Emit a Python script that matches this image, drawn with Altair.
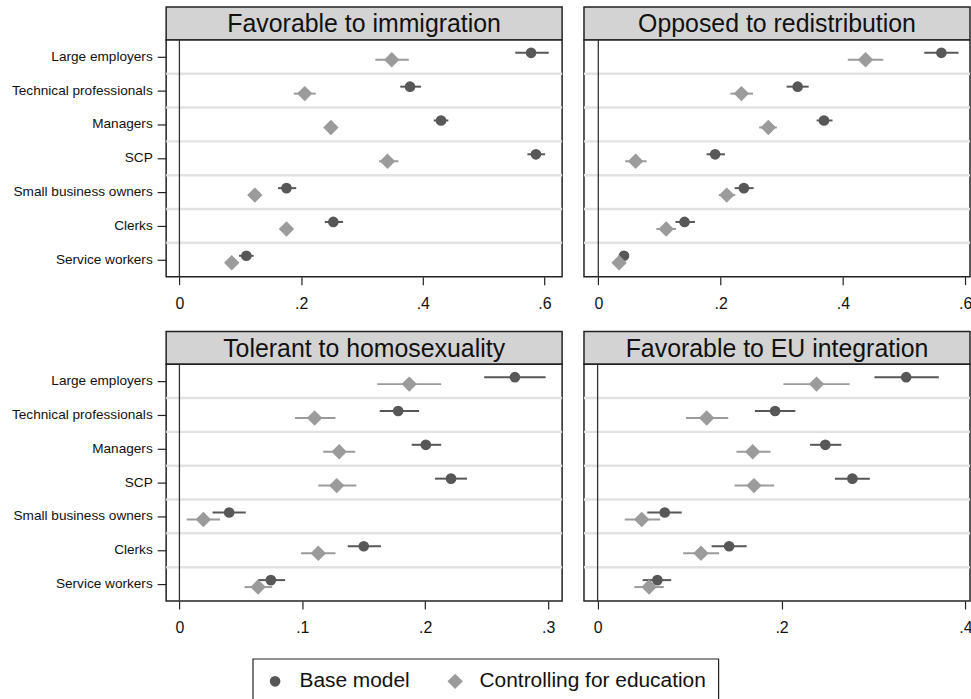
import altair as alt
import pandas as pd

# Occupational classes, top to bottom
categories = [
    "Large employers",
    "Technical professionals",
    "Managers",
    "SCP",
    "Small business owners",
    "Clerks",
    "Service workers",
]
series_names = ["Base model", "Controlling for education"]

# Favorable to immigration
imm_base = [0.578, 0.379, 0.430, 0.586, 0.176, 0.253, 0.110]
imm_base_lo = [0.552, 0.363, 0.418, 0.572, 0.162, 0.239, 0.098]
imm_base_hi = [0.607, 0.397, 0.442, 0.601, 0.192, 0.269, 0.122]
imm_edu = [0.349, 0.206, 0.249, 0.342, 0.124, 0.176, 0.086]
imm_edu_lo = [0.322, 0.188, 0.240, 0.328, 0.115, 0.166, 0.078]
imm_edu_hi = [0.377, 0.224, 0.258, 0.360, 0.133, 0.186, 0.094]

# Opposed to redistribution
red_base = [0.561, 0.326, 0.369, 0.191, 0.238, 0.141, 0.042]
red_base_lo = [0.533, 0.308, 0.357, 0.177, 0.223, 0.126, 0.034]
red_base_hi = [0.589, 0.344, 0.383, 0.207, 0.254, 0.158, 0.050]
red_edu = [0.437, 0.234, 0.278, 0.061, 0.210, 0.111, 0.034]
red_edu_lo = [0.408, 0.216, 0.263, 0.044, 0.197, 0.095, 0.026]
red_edu_hi = [0.466, 0.253, 0.292, 0.079, 0.224, 0.127, 0.042]

# Tolerant to homosexuality
hom_base = [0.273, 0.178, 0.2005, 0.221, 0.0405, 0.150, 0.0744]
hom_base_lo = [0.248, 0.163, 0.189, 0.208, 0.027, 0.137, 0.064]
hom_base_hi = [0.298, 0.195, 0.213, 0.234, 0.054, 0.164, 0.086]
hom_edu = [0.187, 0.110, 0.130, 0.128, 0.0195, 0.113, 0.064]
hom_edu_lo = [0.161, 0.094, 0.117, 0.113, 0.006, 0.099, 0.053]
hom_edu_hi = [0.213, 0.127, 0.143, 0.144, 0.033, 0.127, 0.0755]

# Favorable to EU integration
eu_base = [0.3355, 0.193, 0.2476, 0.277, 0.073, 0.143, 0.065]
eu_base_lo = [0.301, 0.171, 0.231, 0.258, 0.054, 0.124, 0.049]
eu_base_hi = [0.371, 0.215, 0.265, 0.296, 0.0915, 0.162, 0.080]
eu_edu = [0.238, 0.1186, 0.1686, 0.170, 0.048, 0.1124, 0.056]
eu_edu_lo = [0.202, 0.096, 0.151, 0.149, 0.0295, 0.093, 0.040]
eu_edu_hi = [0.274, 0.142, 0.188, 0.192, 0.068, 0.132, 0.072]

FONT = "Liberation Sans"
DARK = "#575757"
LIGHT = "#9b9b9b"
FRAME = "#222222"
W_LEFT = 398
W_RIGHT = 388
H = 238
HEAD_H = 33


def build_frame(base, base_lo, base_hi, edu, edu_lo, edu_hi):
    rows = []
    for i, c in enumerate(categories):
        rows.append(dict(cat=c, series=series_names[0], est=base[i], lo=base_lo[i], hi=base_hi[i]))
        rows.append(dict(cat=c, series=series_names[1], est=edu[i], lo=edu_lo[i], hi=edu_hi[i]))
    return pd.DataFrame(rows)


def panel(title, df, domain, ticks, show_y, width):
    x_scale = alt.Scale(domain=domain, nice=False, zero=False)
    x_axis = alt.Axis(
        values=ticks,
        labelExpr="datum.value == 0 ? '0' : substring(format(datum.value, '.1f'), 1)",
        grid=False, domain=False, tickSize=8, tickWidth=1.2, tickColor=FRAME,
        labelFontSize=16, labelPadding=11, labelColor="#111111", labelFont=FONT,
    )
    y_scale = alt.Scale(domain=categories, paddingInner=0, paddingOuter=0)
    if show_y:
        y_axis = alt.Axis(
            grid=False, domain=False, tickSize=9, tickWidth=1.2, tickColor=FRAME,
            labelFontSize=13.7, labelPadding=5, labelColor="#111111", labelFont=FONT,
        )
    else:
        y_axis = None

    def y_enc(**kw):
        return alt.Y("cat:N", scale=y_scale, sort=categories, axis=y_axis, title=None, **kw)

    # light separators between class rows
    sep = alt.Chart(pd.DataFrame({"cat": categories[1:]})).mark_rule(
        color="#e2e2e2", strokeWidth=2.5
    ).encode(y=y_enc(bandPosition=0))

    zero = alt.Chart(pd.DataFrame({"zero": [0.0]})).mark_rule(
        color="#333333", strokeWidth=1.3
    ).encode(x=alt.X("zero:Q", scale=x_scale, axis=x_axis, title=None))

    color = alt.Color("series:N", scale=alt.Scale(domain=series_names, range=[DARK, LIGHT]), title=None)
    shape = alt.Shape("series:N", scale=alt.Scale(domain=series_names, range=["circle", "diamond"]), title=None)
    size = alt.Size("series:N", scale=alt.Scale(domain=series_names, range=[115, 240]), title=None)

    layers = [sep, zero]
    for name, col, off in [(series_names[0], DARK, -4), (series_names[1], LIGHT, 3)]:
        sub = alt.Chart(df).transform_filter(alt.datum.series == name)
        ci = sub.mark_rule(color=col, strokeWidth=2, yOffset=off).encode(
            x=alt.X("lo:Q", scale=x_scale, axis=x_axis, title=None),
            x2="hi:Q",
            y=y_enc(),
        )
        pts = sub.mark_point(filled=True, opacity=1, strokeWidth=0, yOffset=off).encode(
            x=alt.X("est:Q", scale=x_scale, axis=x_axis, title=None),
            y=y_enc(),
            color=color,
            shape=shape,
            size=size,
        )
        layers += [ci, pts]

    plot = alt.layer(*layers).properties(width=width, height=H)

    header = alt.Chart(
        pd.DataFrame({"t": [title]}),
        view=alt.ViewBackground(fill="#d3d3d3", stroke=FRAME, strokeWidth=1.5),
    ).mark_text(fontSize=25, font=FONT, color="#111111", dy=1).encode(
        text="t:N"
    ).properties(width=width, height=HEAD_H)

    return alt.vconcat(header, plot, spacing=0, bounds="flush")


tl = panel("Favorable to immigration",
           build_frame(imm_base, imm_base_lo, imm_base_hi, imm_edu, imm_edu_lo, imm_edu_hi),
           [-0.0218, 0.629], [0, 0.2, 0.4, 0.6], True, W_LEFT)
tr = panel("Opposed to redistribution",
           build_frame(red_base, red_base_lo, red_base_hi, red_edu, red_edu_lo, red_edu_hi),
           [-0.0234, 0.6078], [0, 0.2, 0.4, 0.6], False, W_RIGHT)
bl = panel("Tolerant to homosexuality",
           build_frame(hom_base, hom_base_lo, hom_base_hi, hom_edu, hom_edu_lo, hom_edu_hi),
           [-0.0108, 0.3114], [0, 0.1, 0.2, 0.3], True, W_LEFT)
br = panel("Favorable to EU integration",
           build_frame(eu_base, eu_base_lo, eu_base_hi, eu_edu, eu_edu_lo, eu_edu_hi),
           [-0.0148, 0.4049], [0, 0.2, 0.4], False, W_RIGHT)

chart = alt.vconcat(
    alt.hconcat(tl, tr, spacing=18),
    alt.hconcat(bl, br, spacing=18),
    spacing=18,
).properties(
    padding={"left": 10, "top": 4.3, "right": -2, "bottom": -6},
    background="white",
).configure_view(
    stroke=FRAME, strokeWidth=1.5, fill="white"
).configure_legend(
    orient="none", legendX=87, legendY=655, direction="horizontal",
    strokeColor=FRAME, strokeWidth=1.2, fillColor="white", padding=12,
    labelFontSize=21, labelFont=FONT, labelColor="#111111", labelLimit=400,
    columnPadding=35, labelOffset=14, symbolStrokeWidth=0,
)

chart.save("out.html", embed_options={"renderer": "svg", "actions": False})
